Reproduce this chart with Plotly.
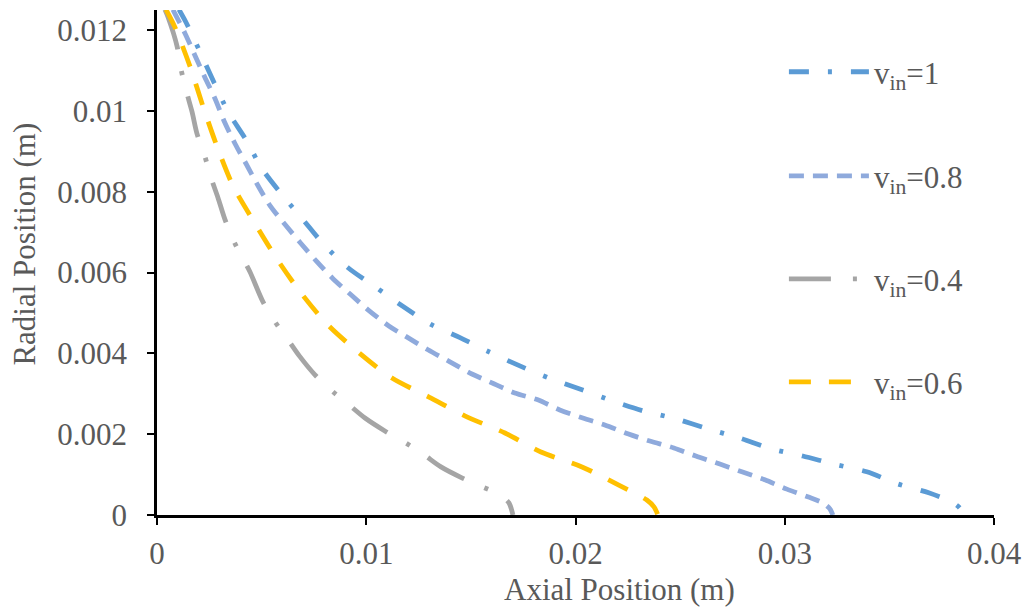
import plotly.graph_objects as go

# Data (axial m, radial m)
x_v1 = [0.00105, 0.00139, 0.00205, 0.00272, 0.00339, 0.00425, 0.00502, 0.00597, 0.00698, 0.00798,
        0.00913, 0.01042, 0.01171, 0.01304, 0.01448, 0.01586, 0.01734, 0.01873, 0.02031, 0.02179,
        0.02322, 0.02480, 0.02633, 0.02781, 0.02934, 0.03086, 0.03235, 0.03392, 0.03540, 0.03688,
        0.03798, 0.03837, 0.03851]
y_v1 = [0.01251, 0.01219, 0.01147, 0.01071, 0.00999, 0.00929, 0.00857, 0.00793, 0.00731, 0.00669,
        0.00612, 0.00565, 0.00518, 0.00473, 0.00439, 0.00404, 0.00369, 0.00339, 0.00310, 0.00282,
        0.00258, 0.00238, 0.00213, 0.00191, 0.00164, 0.00146, 0.00126, 0.00107, 0.00077, 0.00055,
        0.00032, 0.00017, 0.0]

x_v08 = [0.00076, 0.00134, 0.00182, 0.00229, 0.00277, 0.00320, 0.00373, 0.00425, 0.00483, 0.00540,
         0.00612, 0.00688, 0.00764, 0.00841, 0.00927, 0.01013, 0.01108, 0.01199, 0.01295, 0.01400,
         0.01505, 0.01610, 0.01710, 0.01820, 0.01925, 0.02035, 0.02140, 0.02250, 0.02355, 0.02470,
         0.02575, 0.02690, 0.02795, 0.02905, 0.03010, 0.03110, 0.03182, 0.03216, 0.03230]
y_v08 = [0.01251, 0.01192, 0.01137, 0.01083, 0.01031, 0.00976, 0.00919, 0.00870, 0.00815, 0.00766,
         0.00719, 0.00672, 0.00627, 0.00585, 0.00545, 0.00506, 0.00468, 0.00439, 0.00409, 0.00379,
         0.00349, 0.00325, 0.00302, 0.00285, 0.00260, 0.00240, 0.00223, 0.00201, 0.00183, 0.00166,
         0.00146, 0.00126, 0.00107, 0.00087, 0.00064, 0.00045, 0.00030, 0.00015, 0.0]

x_v06 = [0.00043, 0.00086, 0.00158, 0.00220, 0.00287, 0.00363, 0.00463, 0.00569, 0.00683, 0.00812,
         0.00960, 0.01123, 0.01300, 0.01481, 0.01663, 0.01835, 0.02031, 0.02207, 0.02341, 0.02375,
         0.02394]
y_v06 = [0.01251, 0.01207, 0.01110, 0.01011, 0.00912, 0.00815, 0.00726, 0.00637, 0.00553, 0.00473,
         0.00404, 0.00339, 0.00292, 0.00243, 0.00203, 0.00156, 0.00119, 0.00074, 0.00037, 0.00020,
         0.0]

x_v04 = [0.00038, 0.00053, 0.00096, 0.00115, 0.00139, 0.00167, 0.00191, 0.00229, 0.00258, 0.00291,
         0.00325, 0.00368, 0.00406, 0.00444, 0.00506, 0.00564, 0.00626, 0.00683, 0.00755, 0.00841,
         0.00917, 0.00994, 0.01089, 0.01190, 0.01276, 0.01357, 0.01457, 0.01558, 0.01639, 0.01682,
         0.01701]
y_v04 = [0.01251, 0.01232, 0.01160, 0.01103, 0.01051, 0.00999, 0.00944, 0.00887, 0.00835, 0.00786,
         0.00731, 0.00677, 0.00639, 0.00602, 0.00528, 0.00478, 0.00434, 0.00392, 0.00347, 0.00305,
         0.00273, 0.00240, 0.00208, 0.00178, 0.00149, 0.00119, 0.00092, 0.00069, 0.00050, 0.00030,
         0.0]

x_ticks = [0, 0.01, 0.02, 0.03, 0.04]
x_ticklabels = ["0", "0.01", "0.02", "0.03", "0.04"]
y_ticks = [0, 0.002, 0.004, 0.006, 0.008, 0.01, 0.012]
y_ticklabels = ["0", "0.002", "0.004", "0.006", "0.008", "0.01", "0.012"]

x_title = "Axial Position (m)"
y_title = "Radial Position (m)"

FONT = "Liberation Serif"
FS = 31
TXT = "#595959"
LW = 4.8

series = [
    ("v<sub>in</sub>=1", x_v1, y_v1, "#5B9BD5", "20px,19px,4px,19px", "legend", 0.877),
    ("v<sub>in</sub>=0.8", x_v08, y_v08, "#8FAADC", "15px,9px", "legend2", 0.671),
    ("v<sub>in</sub>=0.4", x_v04, y_v04, "#A5A5A5", "42px,22px,4px,22px", "legend3", 0.467),
    ("v<sub>in</sub>=0.6", x_v06, y_v06, "#FFC000", "22px,18px", "legend4", 0.263),
]

fig = go.Figure()
for name, xs, ys, col, dash, lg, _ in series:
    fig.add_trace(go.Scatter(x=xs, y=ys, mode="lines", name=name,
                             line=dict(color=col, width=LW, dash=dash, shape="spline", smoothing=0.8),
                             legend=lg))

leg_common = dict(font=dict(family=FONT, size=FS, color=TXT), bgcolor="rgba(0,0,0,0)",
                  itemwidth=80, xanchor="left", yanchor="middle", x=0.749)
layout_legends = {}
for name, xs, ys, col, dash, lg, ly in series:
    layout_legends[lg] = dict(leg_common, y=ly)

axis_common = dict(showgrid=False, zeroline=False, showline=True, linecolor="black", linewidth=2.5,
                   ticks="outside", ticklen=7, tickwidth=2, tickcolor="black", automargin=False,
                   tickfont=dict(family=FONT, size=FS, color=TXT))

fig.update_layout(
    width=1027, height=608,
    margin=dict(l=157, r=33, t=10, b=93),
    paper_bgcolor="white", plot_bgcolor="white",
    font=dict(family=FONT, size=FS, color=TXT),
    showlegend=True,
    xaxis=dict(axis_common, range=[0, 0.04], tickvals=x_ticks, ticktext=x_ticklabels, ticklabelstandoff=2),
    yaxis=dict(axis_common, range=[0, 0.0125], tickvals=y_ticks, ticktext=y_ticklabels, ticklabelstandoff=14),
    annotations=[
        dict(text=x_title, xref="paper", yref="paper", x=0.5526, y=-0.1485, showarrow=False,
             xanchor="center", yanchor="middle", font=dict(family=FONT, size=FS, color=TXT)),
        dict(text=y_title, xref="paper", yref="paper", x=-0.158, y=0.537, showarrow=False, textangle=-90,
             xanchor="center", yanchor="middle", font=dict(family=FONT, size=FS, color=TXT)),
    ],
    **layout_legends,
)

fig.write_html("out.html", config={"displayModeBar": False},
               post_script="document.body.style.margin='0';document.body.style.padding='0';")
